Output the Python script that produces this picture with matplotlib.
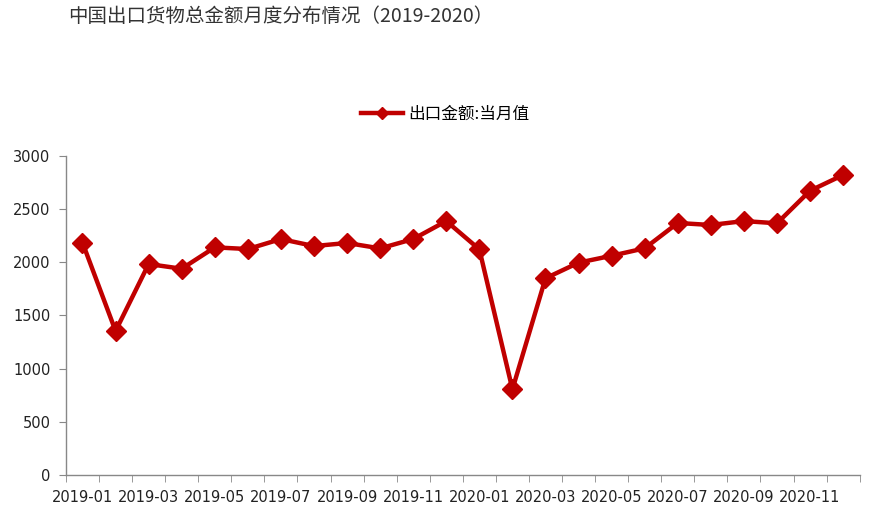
import matplotlib
matplotlib.use('Agg')
import matplotlib.pyplot as plt
import numpy as np

plt.rcParams['font.family'] = ['Noto Sans CJK SC', 'DejaVu Sans']

# 月份与出口金额(亿美元)
months = ['2019-01', '2019-02', '2019-03', '2019-04', '2019-05', '2019-06',
          '2019-07', '2019-08', '2019-09', '2019-10', '2019-11', '2019-12',
          '2020-01', '2020-02', '2020-03', '2020-04', '2020-05', '2020-06',
          '2020-07', '2020-08', '2020-09', '2020-10', '2020-11', '2020-12']
export_value = [2183, 1353, 1982, 1938, 2139, 2123, 2217, 2151, 2180, 2129, 2217, 2386,
                2120, 805, 1848, 1995, 2060, 2130, 2368, 2349, 2386, 2365, 2671, 2819]

red = '#C00000'
axis_gray = '#888888'

fig = plt.figure(figsize=(8.89, 5.30), dpi=100)
ax = fig.add_axes([0.0742, 0.1038, 0.8928, 0.6024])

x = np.arange(len(months))
ax.plot(x, export_value, color=red, linewidth=3.2, marker='D', markersize=10.5,
        markerfacecolor=red, markeredgecolor=red, label='出口金额:当月值')

ax.set_xlim(-0.5, len(months) - 0.5)
ax.set_ylim(0, 3000)
ax.set_yticks(np.arange(0, 3001, 500))

# 标签放在偶数月份中间, 刻度线放在分类边界
ax.set_xticks(x[::2])
ax.set_xticklabels(months[::2], fontsize=10.5, family='DejaVu Sans', color='#222222')
ax.tick_params(axis='x', which='major', length=0, pad=11)
ax.set_xticks(np.arange(-0.5, len(months), 1), minor=True)
ax.tick_params(axis='x', which='minor', length=5, color=axis_gray, direction='out')
ax.tick_params(axis='y', length=5, color=axis_gray, labelsize=10.5, labelcolor='#222222', pad=6)
for t in ax.get_yticklabels():
    t.set_family('DejaVu Sans')

for side in ['top', 'right']:
    ax.spines[side].set_visible(False)
for side in ['left', 'bottom']:
    ax.spines[side].set_color(axis_gray)
    ax.spines[side].set_linewidth(1.0)

leg = ax.legend(loc='center', bbox_to_anchor=(0.478, 1.13), frameon=False,
                fontsize=12, handlelength=2.5, handletextpad=0.3, markerscale=0.55)

fig.text(0.077, 0.968, '中国出口货物总金额月度分布情况（2019-2020）', fontsize=14,
         color='#333333', ha='left', va='center')

fig.savefig('out.png', dpi=100)
